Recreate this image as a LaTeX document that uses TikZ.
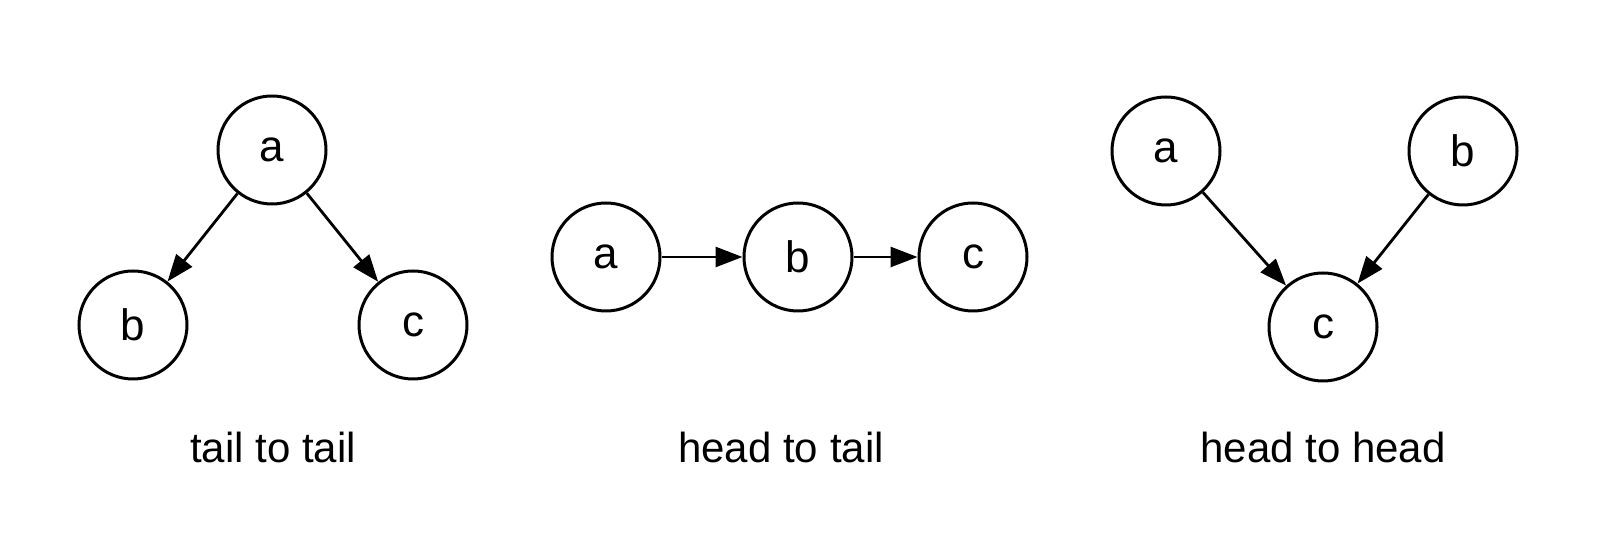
\documentclass[tikz,border=0pt]{standalone}
\usepackage{fontspec}
\setmainfont{Liberation Sans}
\usetikzlibrary{arrows.meta}
\usetikzlibrary{calc}

\begin{document}
\begin{tikzpicture}[>={Triangle[length=13.5pt, width=10pt]}, x=0.5pt, y=0.5pt,
var/.style={circle, draw=black, line width=1.5pt, minimum size=54pt, inner sep=0, font=\fontsize{22}{26}\selectfont},
edge/.style={->, line width=1.4pt},
felirat/.style={anchor=base, inner sep=0, font=\fontsize{21}{25}\selectfont}]

% SIZE OF THE PICTURE
\useasboundingbox (0,0) rectangle (1608,540);
%%%%%%%%% TAIL TO TAIL %%%%%%%%%%%%%
\node[var] (ta) at (272,390) {a};
\node[var] (tb) at (133,215) {b};
\node[var] (tc) at (413,215) {c};
\draw[edge] (ta)--(tb);
\draw[edge] (ta)--(tc);
\node[felirat] (tlabel) at (273,77) {tail to tail};
%%%%%%%%% HEAD TO TAIL %%%%%%%%%%%%%
\node[var] (ha) at (606,283) {a};
\node[var] (hb) at (798,283) {b};
\node[var] (hc) at (973,283) {c};
\draw[edge] (ha)--(hb);
\draw[edge] (hb)--(hc);
\node[felirat] (hlabel) at (781,77) {head to tail};
%%%%%%%%% HEAD TO HEAD %%%%%%%%%%%%%
\node[var] (va) at (1166,389) {a};
\node[var] (vb) at (1463,389) {b};
\node[var] (vc) at (1323,213) {c};
\draw[edge] (va)--(vc);
\draw[edge] (vb)--(vc);
\node[felirat] (vlabel) at (1323,77) {head to head};
\end{tikzpicture}
\end{document}
